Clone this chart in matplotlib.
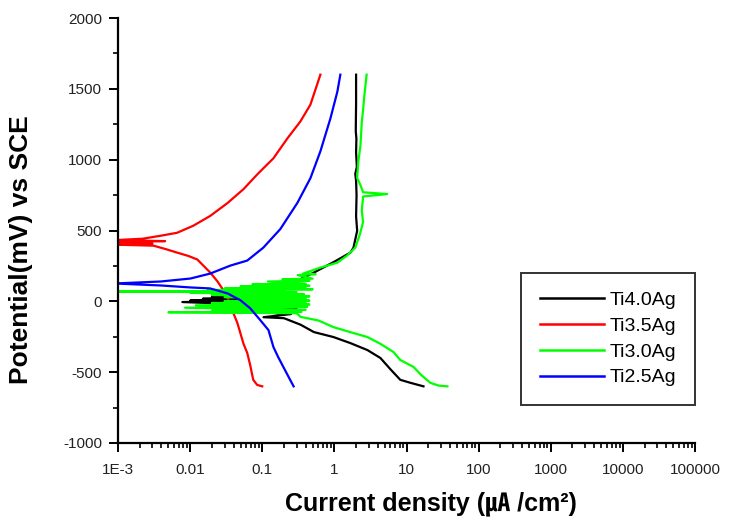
import matplotlib
matplotlib.use("Agg")
import matplotlib.pyplot as plt
from matplotlib.ticker import FixedLocator, FixedFormatter, NullFormatter

plt.rcParams["font.family"] = ["Liberation Sans", "DejaVu Sans", "Noto Sans CJK KR"]
plt.rcParams["axes.unicode_minus"] = False

# ---- data: current density (uA/cm2) vs potential (mV) ----
black_i = [17.2, 11.3, 8.2, 6.0, 4.35, 2.87, 1.67, 0.97, 0.52, 0.34, 0.20, 0.104,
           0.25, 0.06, 0.30, 0.04, 0.22, 0.0078, 0.12, 0.010, 0.16, 0.015, 0.13,
           0.02, 0.10, 0.03, 0.20, 0.31, 0.52, 1.0, 1.67, 1.84, 2.07, 2.0, 2.03,
           2.0, 1.95, 2.05, 2.0, 2.02, 1.98, 2.0, 2.0]
black_E = [-600, -575, -554, -480, -400, -344, -295, -252, -217, -165, -119, -112,
           -90, -70, -55, -40, -32, -5, 0, 5, 12, 18, 25,
           30, 36, 42, 80, 147, 203, 280, 344, 379, 498, 600, 750,
           850, 900, 950, 1050, 1150, 1200, 1400, 1600]

red_i = [0.10, 0.085, 0.075, 0.068, 0.062, 0.055, 0.0497, 0.045, 0.0398, 0.035,
         0.029, 0.024, 0.019, 0.0126, 0.0095, 0.0066, 0.0045, 0.0031, 0.0009,
         0.0030, 0.0009, 0.0045, 0.0009, 0.0022, 0.0039, 0.0066, 0.011, 0.019,
         0.033, 0.055, 0.086, 0.143, 0.223, 0.337, 0.465, 0.64]
red_E = [-600, -590, -554, -450, -365, -300, -224, -150, -84, 0,
         77, 140, 203, 295, 320, 344, 370, 393, 400,
         408, 418, 425, 432, 442, 463, 484, 533, 603,
         694, 792, 898, 1010, 1150, 1269, 1388, 1600]

green_i = [36.9, 28, 21.4, 16, 12.5, 8.2, 6.6, 4.35, 2.87, 1.6, 0.97, 0.6, 0.34,
           0.30, 0.005, 0.35, 0.02, 0.40, 0.0085, 0.42, 0.012, 0.45, 0.02, 0.40,
           0.03, 0.45, 0.05, 0.40, 0.03, 0.45, 0.02, 0.38, 0.01, 0.30, 0.0009,
           0.20, 0.0175, 0.50, 0.03, 0.40, 0.05, 0.45, 0.073, 0.40, 0.12, 0.45,
           0.19, 0.50, 0.31, 0.55, 0.37, 0.64, 1.10, 1.5, 1.95, 2.27, 2.5, 2.4,
           2.5, 5.4, 2.5, 2.3, 2.07, 2.15, 2.3, 2.4, 2.5, 2.6, 2.8]
green_E = [-600, -595, -575, -520, -463, -414, -358, -300, -252, -215, -182, -135, -110,
           -84, -77, -74, -66, -60, -45, -40, -28, -22, -12, -8,
           0, 5, 15, 20, 30, 35, 45, 50, 60, 65, 70,
           72, 80, 85, 90, 95, 105, 110, 120, 125, 140, 145,
           155, 160, 185, 192, 196, 238, 273, 323, 379, 477, 560, 638,
           740, 757, 770, 820, 870, 989, 1100, 1269, 1350, 1450, 1600]

blue_i = [0.272, 0.23, 0.196, 0.165, 0.143, 0.122, 0.094, 0.068, 0.050, 0.033,
          0.019, 0.0101, 0.0039, 0.0009, 0.0039, 0.0101, 0.019, 0.036, 0.062,
          0.1035, 0.178, 0.307, 0.466, 0.64, 0.88, 1.10, 1.21]
blue_E = [-600, -530, -463, -390, -323, -203, -133, -49, 7, 56,
          91, 98, 112, 126, 140, 161, 196, 252, 288,
          379, 510, 695, 870, 1059, 1290, 1480, 1600]

series_labels = ["Ti4.0Ag", "Ti3.5Ag", "Ti3.0Ag", "Ti2.5Ag"]
series_colors = ["#000000", "#ff0000", "#00ff00", "#0000ff"]

x_ticks = [1e-3, 1e-2, 1e-1, 1, 10, 100, 1000, 10000, 100000]
x_tick_labels = ["1E-3", "0.01", "0.1", "1", "10", "100", "1000", "10000", "100000"]
y_ticks = [-1000, -500, 0, 500, 1000, 1500, 2000]

# ---- figure ----
fig = plt.figure(figsize=(7.29, 5.22), dpi=100)
ax = fig.add_axes([118 / 729, 1 - 443 / 522, 577 / 729, 425 / 522])

curves = [(black_i, black_E), (red_i, red_E), (green_i, green_E), (blue_i, blue_E)]
for (ci, ce), lab, col in zip(curves, series_labels, series_colors):
    ax.plot(ci, ce, color=col, lw=1.6, label=lab)

ax.set_xscale("log")
ax.set_xlim(1e-3, 1e5)
ax.set_ylim(-1000, 2000)

ax.xaxis.set_major_locator(FixedLocator(x_ticks))
ax.xaxis.set_major_formatter(FixedFormatter(x_tick_labels))
ax.xaxis.set_minor_formatter(NullFormatter())
ax.yaxis.set_major_locator(FixedLocator(y_ticks))
ax.yaxis.set_minor_locator(FixedLocator([-750, -250, 250, 750, 1250, 1750]))

for side in ["top", "right"]:
    ax.spines[side].set_visible(False)
for side in ["left", "bottom"]:
    ax.spines[side].set_linewidth(1.6)

ax.tick_params(which="major", direction="out", length=6.5, width=1.4,
               labelsize=11, color="black", labelcolor="#222222")
ax.tick_params(which="minor", direction="out", length=3.5, width=1.2)
ax.tick_params(axis="x", which="major", pad=8)
ax.tick_params(axis="y", which="major", pad=5)

ax.set_ylabel("Potential(mV) vs SCE", fontsize=19, fontweight="bold")
ax.yaxis.set_label_coords(-0.147, 0.454)
ax.set_xlabel("Current density (\u3382 /cm\u00b2)", fontsize=18, fontweight="bold")
ax.xaxis.set_label_coords(0.542, -0.115)

leg = ax.legend(loc="upper right", bbox_to_anchor=(1.0, 0.40), fontsize=14,
                frameon=True, fancybox=False, shadow=False, handlelength=3.3,
                handletextpad=0.3, labelspacing=0.42, borderpad=0.95,
                borderaxespad=0)
leg.get_frame().set_edgecolor("black")
leg.get_frame().set_linewidth(1.4)
for line in leg.get_lines():
    line.set_linewidth(1.8)

fig.savefig("out.png", dpi=100)
